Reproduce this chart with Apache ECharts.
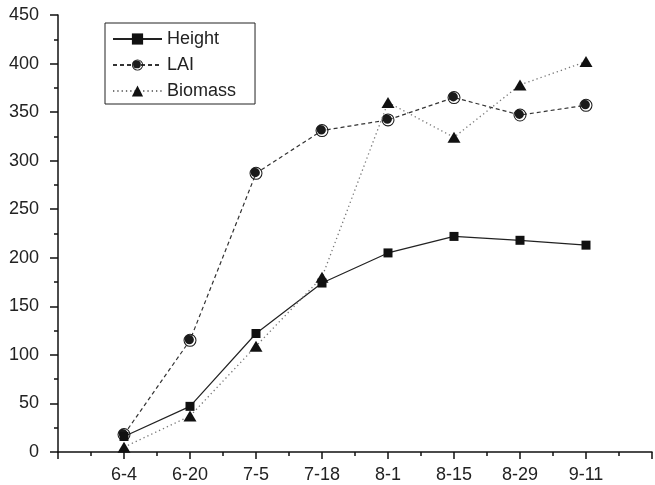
<!DOCTYPE html>
<html>
<head>
<meta charset="utf-8">
<script src="https://cdn.jsdelivr.net/npm/echarts@6/dist/echarts.min.js"></script>
<style>
    html, body { margin: 0; padding: 0; background: #fff; }
    #chart { width: 655px; height: 485px; }
</style>
</head>
<body>
<div id="chart"></div>
<script>
    // sampling dates, placed at x = 1..8 (axis runs 0..9)
    const dates = ['6-4', '6-20', '7-5', '7-18', '8-1', '8-15', '8-29', '9-11']
    const height = [16, 47, 122, 174, 205, 222, 218, 213]
    const lai = [18, 115, 287, 331, 342, 365, 347, 357]
    const biomass = [5, 37, 109, 180, 360, 324, 378, 402]

    // filled disk inside an open ring
    const ringDot = 'path://M0,-10A10,10 0 1,1 0,10A10,10 0 1,1 0,-10Z' +
        'M0,-8.4A8.4,8.4 0 1,0 0,8.4A8.4,8.4 0 1,0 0,-8.4Z' +
        'M-1,-8A7,7 0 1,1 -1,6A7,7 0 1,1 -1,-8Z'

    function toPoints(arr) {
        return arr.map((v, i) => [i + 1, v])
    }

    const font = 'Liberation Sans, Arial, sans-serif'
    const chart = echarts.init(document.getElementById('chart'))
    const options = {
        animation: false,
        grid: {
            left: 58,
            right: 1,
            top: 15,
            bottom: 33
        },
        legend: {
            orient: 'vertical',
            left: 105,
            top: 23,
            padding: [7, 19, 4, 7],
            itemWidth: 49,
            itemHeight: 14,
            itemGap: 8,
            borderColor: '#222',
            borderWidth: 1,
            textStyle: {
                fontFamily: font,
                fontSize: 18,
                color: '#222'
            },
            data: ['Height', 'LAI', 'Biomass']
        },
        xAxis: {
            type: 'value',
            min: 0,
            max: 9,
            interval: 1,
            splitLine: { show: false },
            axisLine: { lineStyle: { color: '#111', width: 1.5 } },
            axisTick: { length: 7, lineStyle: { color: '#111', width: 1.5 } },
            minorTick: { show: true, splitNumber: 2, length: 4, lineStyle: { color: '#111', width: 1.5 } },
            axisLabel: {
                margin: 14,
                fontFamily: font,
                fontSize: 18,
                color: '#222',
                formatter: v => dates[v - 1] || ''
            }
        },
        yAxis: {
            type: 'value',
            min: 0,
            max: 450,
            interval: 50,
            splitLine: { show: false },
            axisLine: { show: true, lineStyle: { color: '#111', width: 1.5 } },
            axisTick: { show: true, length: 8, lineStyle: { color: '#111', width: 1.5 } },
            minorTick: { show: true, splitNumber: 2, length: 4, lineStyle: { color: '#111', width: 1.5 } },
            axisLabel: {
                margin: 19,
                fontFamily: font,
                fontSize: 18,
                color: '#222'
            }
        },
        series: [
            {
                name: 'Height',
                type: 'line',
                data: toPoints(height),
                symbol: 'rect',
                symbolSize: 9,
                itemStyle: { color: '#111' },
                lineStyle: { color: '#222', width: 1.2 },
                z: 3
            },
            {
                name: 'LAI',
                type: 'line',
                data: toPoints(lai),
                symbol: ringDot,
                symbolSize: 13,
                itemStyle: { color: '#1a1a1a' },
                lineStyle: { color: '#333', width: 1.2, type: [4, 3] },
                z: 2
            },
            {
                name: 'Biomass',
                type: 'line',
                data: toPoints(biomass),
                symbol: 'triangle',
                symbolSize: [13, 11],
                itemStyle: { color: '#111' },
                lineStyle: { color: '#777', width: 1.3, type: [1.3, 3] },
                z: 4
            }
        ]
    }
    chart.setOption(options)
</script>
</body>
</html>
